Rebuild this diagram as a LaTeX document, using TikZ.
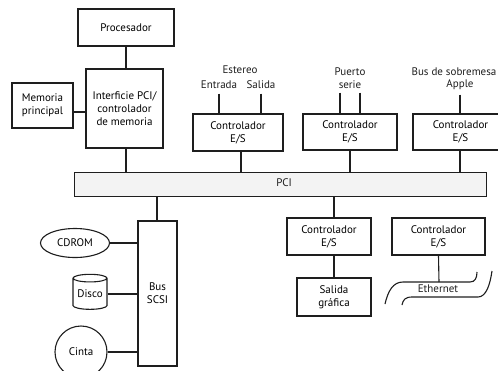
\documentclass[tikz,border=0pt]{standalone}
\usepackage{fontspec}
\setmainfont{PT Sans}
\usepackage{xcolor}
\usetikzlibrary{
    shapes.geometric,
    positioning,
    calc
}
\definecolor{ink}{HTML}{1E1E1E}
\definecolor{busgray}{HTML}{F3F3F3}
\tikzset{
    % Base box style
    unit/.style={
        rectangle,
        draw=ink,
        fill=white,
        line width=1.1pt,
        inner sep=0pt,
        align=center,
        font=\fontsize{11}{13}\selectfont
    },
    % Bus bar style
    busbar/.style={
        unit,
        fill=busgray,
        line width=0.9pt
    },
    % Peripheral device style
    device/.style={
        draw=ink,
        fill=white,
        line width=1.1pt,
        inner sep=0pt,
        align=center,
        font=\fontsize{11}{13}\selectfont
    },
    % Connection line style
    link/.style={
        draw=ink,
        line width=1.1pt
    },
    % Free label style
    tag/.style={
        inner sep=1pt,
        align=center,
        text=ink,
        font=\fontsize{11}{13}\selectfont
    }
}

\begin{document}
\begin{tikzpicture}[x=1pt, y=-1pt]
        \useasboundingbox (0,0) rectangle (498,370);

        % Processor and bridge
        \node[unit, minimum width=96pt, minimum height=37pt] (proc) at (126, 27.5) {Procesador};
        \node[unit, minimum width=77pt, minimum height=79pt] (iface) at (124.5, 108.5) {Interficie PCI/\\controlador\\de memoria};
        \node[unit, minimum width=61pt, minimum height=45pt] (mem) at (42.5, 105.5) {Memoria\\principal};

        \draw[link] (proc.south) -- (proc.south |- iface.north);
        \draw[link] ([yshift=-6.5pt]mem.east) -- ([yshift=-6.5pt]mem.east -| iface.west);

        % PCI bus
        \node[busbar, minimum width=412pt, minimum height=24pt] (pci) at (280, 184) {};
        \node[tag] (pcilabel) at (284, 182.5) {PCI};

        \draw[link] (proc.south |- iface.south) -- (proc.south |- pci.north);

        % Upper I/O controllers
        \node[unit, minimum width=90pt, minimum height=37pt] (ctrlstereo) at (238, 132.5) {Controlador\\E/S};
        \node[unit, minimum width=94pt, minimum height=36pt] (ctrlserial) at (350, 132) {Controlador\\E/S};
        \node[unit, minimum width=95pt, minimum height=36pt] (ctrlapple) at (460.5, 132) {Controlador\\E/S};

        \node[tag] (stereo) at (240, 70) {Estereo};
        \node[tag] (entrada) at (219, 84.5) {Entrada};
        \node[tag] (salida) at (261, 84.5) {Salida};
        \node[tag] (serial) at (350, 78) {Puerto\\serie};
        \node[tag] (desktop) at (454, 71.5) {Bus de sobremesa};
        \node[tag] (apple) at (460, 84.5) {Apple};

        \draw[link] ([yshift=-4pt]entrada.south) -- (entrada.south |- ctrlstereo.north);
        \draw[link] ([yshift=-4pt]salida.south) -- (salida.south |- ctrlstereo.north);
        \draw[link] ([xshift=-10pt, yshift=-3pt]serial.south) -- ([xshift=-10pt]serial.south |- ctrlserial.north);
        \draw[link] ([xshift=10pt, yshift=-3pt]serial.south) -- ([xshift=10pt]serial.south |- ctrlserial.north);
        \draw[link] ([yshift=-4pt]apple.south) -- (apple.south |- ctrlapple.north);

        \draw[link] ([xshift=3pt]ctrlstereo.south) -- ([xshift=3pt]ctrlstereo.south |- pci.north);
        \draw[link] (ctrlserial.south) -- (ctrlserial.south |- pci.north);
        \draw[link] (apple.south |- ctrlapple.south) -- (apple.south |- pci.north);

        % SCSI bus and devices
        \node[unit, minimum width=39pt, minimum height=145pt] (scsi) at (157.5, 293.5) {Bus\\SCSI};
        \node[device, ellipse, minimum width=69pt, minimum height=29pt] (cdrom) at (75, 243) {CDROM};
        \node[device, cylinder, shape border rotate=90, aspect=0.3, minimum width=34pt, minimum height=35pt] (disco) at (90, 294) {Disco};
        \node[device, circle, minimum size=52pt] (cinta) at (81, 352) {Cinta};

        \draw[link] ([xshift=-0.5pt]scsi.north) -- ([xshift=-0.5pt]scsi.north |- pci.south);
        \draw[link] (cdrom.east) -- (cdrom.east -| scsi.west);
        \draw[link] (disco.east) -- (disco.east -| scsi.west);
        \draw[link] (cinta.east) -- (cinta.east -| scsi.west);

        % Lower I/O controllers
        \node[unit, minimum width=84pt, minimum height=37pt] (ctrlvideo) at (329, 236.5) {Controlador\\E/S};
        \node[unit, minimum width=74pt, minimum height=38pt] (video) at (334, 297) {Salida\\gráfica};
        \node[unit, minimum width=93pt, minimum height=37pt] (ctrlnet) at (438.5, 236.5) {Controlador\\E/S};

        \draw[link] (video.north |- pci.south) -- (video.north |- ctrlvideo.north);
        \draw[link] (video.north |- ctrlvideo.south) -- (video.north);

        % Ethernet cable
        \coordinate (nettop) at (439, 282);
        \node[tag] (ethernet) at (438, 289) {Ethernet};
        \draw[link] (385, 304) .. controls (388, 291) and (393, 282) .. (403, 282) -- (470, 282) .. controls (475, 282) and (477, 278) .. (477, 272);
        \draw[link] (402, 305) .. controls (403, 300) and (405, 297) .. (412, 297) -- (478, 297) .. controls (486, 297) and (490, 285) .. (492, 271);
        \draw[link] (ctrlnet.south) -- (nettop);

    \end{tikzpicture}
\end{document}
